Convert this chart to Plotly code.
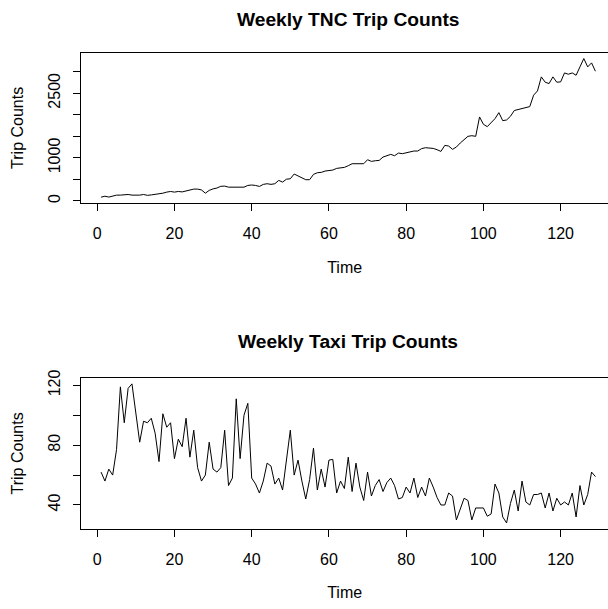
import plotly.graph_objects as go

weeks = list(range(1, 130))

tnc_counts = [
    88, 110, 90, 115, 135, 135, 140, 150, 135, 130,
    135, 150, 130, 140, 150, 165, 180, 205, 220, 205,
    220, 210, 235, 250, 275, 275, 255, 180, 245, 280,
    300, 340, 345, 320, 320, 320, 320, 320, 360, 370,
    360, 337, 384, 400, 385, 400, 477, 438, 505, 515,
    625, 580, 525, 493, 493, 616, 655, 663, 694, 709,
    717, 756, 771, 779, 818, 864, 864, 864, 864, 957,
    918, 934, 941, 1019, 1050, 1081, 1050, 1112, 1097, 1120,
    1143, 1159, 1159, 1215, 1236, 1230, 1220, 1190, 1150, 1290,
    1275, 1198, 1252, 1345, 1420, 1500, 1515, 1500, 1950, 1779,
    1725, 1815, 1911, 2050, 1864, 1880, 1965, 2100, 2125, 2150,
    2182, 2190, 2455, 2554, 2880, 2756, 2725, 2880, 2756, 2764,
    2972, 2942, 2972, 2918, 3112, 3306, 3112, 3205, 3012,
]

taxi_counts = [
    62, 56, 64, 60, 77, 119, 95, 118, 121, 102,
    82, 96, 95, 98, 88, 69, 101, 92, 95, 71,
    84, 79, 98, 72, 90, 65, 56, 60, 82, 64,
    62, 65, 90, 53, 58, 111, 71, 100, 108, 58,
    54, 48, 56, 68, 66, 54, 58, 50, 70, 90,
    60, 70, 56, 44, 57, 78, 50, 64, 52, 70,
    70.5, 48, 56, 51, 72, 49, 68, 52, 43, 62,
    46, 53, 57, 49, 55, 58, 53, 44, 45, 52,
    48, 58, 45, 52, 46, 58, 52, 45, 40, 40,
    48, 46, 30, 38, 44.5, 43, 30, 38, 38, 38,
    32.5, 34, 54, 48, 32, 28, 41, 50, 36, 56,
    42, 40, 47, 47, 48, 38, 48, 36, 44.5, 40,
    42, 40, 48, 32, 53, 40, 47, 62, 59,
]

x_ticks = [0, 20, 40, 60, 80, 100, 120]
tnc_ticks = [0, 500, 1000, 1500, 2000, 2500, 3000]
tnc_tick_text = ["0", "", "1000", "", "", "2500", ""]
taxi_ticks = [40, 60, 80, 100, 120]
taxi_tick_text = ["40", "", "80", "", "120"]

titles = ["Weekly TNC Trip Counts", "Weekly Taxi Trip Counts"]
x_title = "Time"
y_title = "Trip Counts"


def r_range(vals):
    lo, hi = min(vals), max(vals)
    pad = 0.04 * (hi - lo)
    return [lo - pad, hi + pad]


W, H = 608, 609
left_px = 81.3
px_per_unit = 3.862
xr = r_range(weeks)
x_right_visible = xr[0] + (W - left_px) / px_per_unit

font = dict(family="Liberation Sans, Arial, Helvetica, sans-serif", size=16, color="black")

fig = go.Figure()
fig.add_trace(go.Scatter(x=weeks, y=tnc_counts, mode="lines",
                         line=dict(color="black", width=1), xaxis="x", yaxis="y",
                         showlegend=False))
fig.add_trace(go.Scatter(x=weeks, y=taxi_counts, mode="lines",
                         line=dict(color="black", width=1), xaxis="x2", yaxis="y2",
                         showlegend=False))

top_dom = [1 - 202.7 / H, 1 - 53 / H]
bot_dom = [1 - 528.5 / H, 1 - 378.3 / H]
x_dom = [left_px / W, 1.0]

common_x = dict(range=[xr[0], x_right_visible], tickvals=x_ticks, ticks="outside",
                ticklen=7, tickwidth=1, tickcolor="black", showline=True,
                linecolor="black", linewidth=1, mirror=True, showgrid=False,
                zeroline=False, tickfont=font, ticklabelstandoff=9,
                automargin=False,
                title=dict(text=x_title, font=font, standoff=20))
common_y = dict(ticks="outside", ticklen=7, tickwidth=1, tickcolor="black",
                showline=True, linecolor="black", linewidth=1, mirror=False,
                showgrid=False, zeroline=False, tickfont=font, tickangle=-90,
                ticklabelstandoff=7, automargin=False,
                title=dict(text=y_title, font=font, standoff=18))

fig.update_layout(
    width=W, height=H,
    margin=dict(l=0, r=0, t=0, b=0, pad=0, autoexpand=False),
    paper_bgcolor="white", plot_bgcolor="white",
    font=font,
    hovermode=False,
    xaxis=dict(domain=x_dom, anchor="y", **common_x),
    yaxis=dict(domain=top_dom, anchor="x", range=r_range(tnc_counts),
               tickvals=tnc_ticks, ticktext=tnc_tick_text, **common_y),
    xaxis2=dict(domain=x_dom, anchor="y2", **common_x),
    yaxis2=dict(domain=bot_dom, anchor="x2", range=r_range(taxi_counts),
                tickvals=taxi_ticks, ticktext=taxi_tick_text, **common_y),
)

title_x = (left_px + (xr[1] - xr[0]) * px_per_unit / 2) / W
for t, ypx in zip(titles, [19.5, 341]):
    fig.add_annotation(text="<b>" + t + "</b>", x=title_x, y=1 - ypx / H,
                       xref="paper", yref="paper", showarrow=False,
                       xanchor="center", yanchor="middle",
                       font=dict(family=font["family"], size=19.2, color="black"))

fig.write_html("out.html", config={"displayModeBar": False},
               post_script="document.body.style.margin='0';document.body.style.padding='0';")
